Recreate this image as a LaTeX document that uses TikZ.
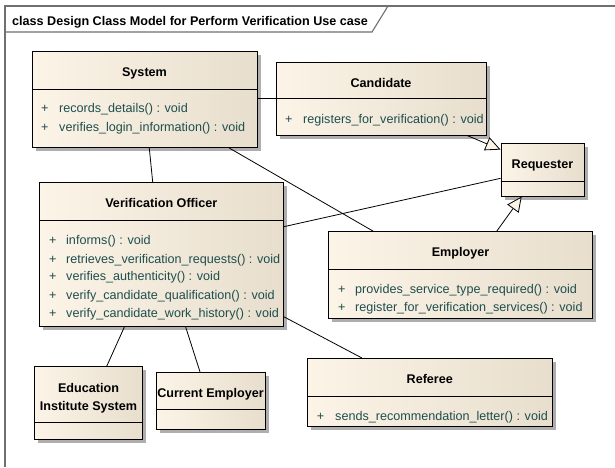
\documentclass[tikz,border=0pt]{standalone}
\usepackage{fontspec}
\setmainfont{Liberation Sans}
\usetikzlibrary{arrows.meta,shadows}
\definecolor{boxL}{RGB}{252,244,231}
\definecolor{boxR}{RGB}{231,222,205}
\definecolor{opcol}{RGB}{30,78,78}
\definecolor{framecol}{RGB}{112,112,112}
\begin{document}
\begin{tikzpicture}[x=1pt,y=-1pt,
  classbox/.style={draw=black, line width=0.9pt, left color=boxL, right color=boxR, inner sep=0pt,
    drop shadow={shadow xshift=3.5pt, shadow yshift=-3.5pt, fill=black!45, opacity=0.7}},
  ttl/.style={font=\fontsize{12.6}{14}\selectfont\bfseries, inner sep=0pt, anchor=base},
  op/.style={font=\fontsize{12.6}{14}\selectfont, text=opcol, inner sep=0pt, anchor=base west},
  conn/.style={draw=black, line width=0.8pt},
  gen/.style={conn, -{Triangle[length=15pt, width=14pt, fill=boxL]}}]
\useasboundingbox (0,0) rectangle (615,467);
\fill[white] (0,0) rectangle (615,467);
% frame
\draw[framecol, line width=1.4pt] (615,6) -- (5,6) -- (5,467);
\draw[framecol, line width=1.1pt] (5,32) -- (372,32) -- (388,6);
\node[ttl, anchor=base west] (title) at (12,25) {class Design Class Model for Perform Verification Use case};

% System
\node[classbox, minimum width=225pt, minimum height=96pt] (sys) at (144.5,99.6) {};
\draw[line width=0.9pt] (sys.west |- 0,89) -- (sys.east |- 0,89);
\node[ttl] (sysT) at (144.5,76.5) {System};
\node[op] (sysP1) at (41,112.5) {+};
\node[op] (sysM1) at (59,112.5) {records\_details() : void};
\node[op] (sysP2) at (41,131.5) {+};
\node[op] (sysM2) at (59,131.5) {verifies\_login\_information() : void};

% Candidate
\node[classbox, minimum width=210pt, minimum height=73pt] (cand) at (381,98.5) {};
\draw[line width=0.9pt] (cand.west |- 0,98) -- (cand.east |- 0,98);
\node[ttl] (candT) at (381,87.5) {Candidate};
\node[op] (candP1) at (285,123.5) {+};
\node[op] (candM1) at (303,123.5) {registers\_for\_verification() : void};

% Requester
\node[classbox, minimum width=83pt, minimum height=52.7pt] (req) at (542.5,169.7) {};
\draw[line width=0.9pt] (req.west |- 0,181.7) -- (req.east |- 0,181.7);
\node[ttl] (reqT) at (542.5,168.5) {Requester};

% Verification Officer
\node[classbox, minimum width=244pt, minimum height=144pt] (vo) at (161.3,254.7) {};
\draw[line width=0.9pt] (vo.west |- 0,220.7) -- (vo.east |- 0,220.7);
\node[ttl] (voT) at (161.3,207.5) {Verification Officer};
\node[op] (voP1) at (49,244.5) {+};
\node[op] (voM1) at (66,244.5) {informs() : void};
\node[op] (voP2) at (49,263.5) {+};
\node[op] (voM2) at (66,263.5) {retrieves\_verification\_requests() : void};
\node[op] (voP3) at (49,280.5) {+};
\node[op] (voM3) at (66,280.5) {verifies\_authenticity() : void};
\node[op] (voP4) at (49,299.5) {+};
\node[op] (voM4) at (66,299.5) {verify\_candidate\_qualification() : void};
\node[op] (voP5) at (49,317) {+};
\node[op] (voM5) at (66,317) {verify\_candidate\_work\_history() : void};

% Employer
\node[classbox, minimum width=264.4pt, minimum height=86.6pt] (emp) at (460.5,275) {};
\draw[line width=0.9pt] (emp.west |- 0,269.3) -- (emp.east |- 0,269.3);
\node[ttl] (empT) at (460.5,256.5) {Employer};
\node[op] (empP1) at (338,293.5) {+};
\node[op] (empM1) at (355,293.5) {provides\_service\_type\_required() : void};
\node[op] (empP2) at (338,311) {+};
\node[op] (empM2) at (355,311) {register\_for\_verification\_services() : void};

% Education Institute System
\node[classbox, minimum width=108.4pt, minimum height=72.6pt] (edu) at (88.5,403) {};
\draw[line width=0.9pt] (edu.west |- 0,422.7) -- (edu.east |- 0,422.7);
\node[ttl] (eduT1) at (88.5,392) {Education};
\node[ttl] (eduT2) at (88.5,410.5) {Institute System};

% Current Employer
\node[classbox, minimum width=109pt, minimum height=57pt] (cur) at (210.5,400.8) {};
\draw[line width=0.9pt] (cur.west |- 0,409.3) -- (cur.east |- 0,409.3);
\node[ttl] (curT) at (210.5,397) {Current Employer};

% Referee
\node[classbox, minimum width=245pt, minimum height=68.4pt] (ref) at (429.8,392.5) {};
\draw[line width=0.9pt] (ref.west |- 0,396.7) -- (ref.east |- 0,396.7);
\node[ttl] (refT) at (429.8,383.8) {Referee};
\node[op] (refP1) at (316.7,420) {+};
\node[op] (refM1) at (335,420) {sends\_recommendation\_letter() : void};

% connectors
\draw[conn] (sys.east |- cand.west) -- (cand.west);
\draw[conn] ([xshift=4.8pt]sys.south) -- ([xshift=-8.6pt]vo.north);
\draw[conn] ([xshift=84.8pt]sys.south) -- ([xshift=-87.2pt]emp.north);
\draw[gen] ([xshift=86pt]cand.south) -- ([yshift=-6.7pt]req.north west);
\draw[gen] ([xshift=36.2pt]emp.north) -- ([xshift=-20.8pt]req.south);
\draw[conn] ([yshift=28pt]vo.east) -- ([yshift=-8.6pt]req.west);
\draw[conn] ([xshift=-37pt]vo.south) -- ([xshift=18.2pt]edu.north);
\draw[conn] ([xshift=24.4pt]vo.south) -- ([xshift=-10.5pt]cur.north);
\draw[conn] ([yshift=-62pt]vo.east) -- ([xshift=-68.1pt]ref.north);
\end{tikzpicture}
\end{document}
